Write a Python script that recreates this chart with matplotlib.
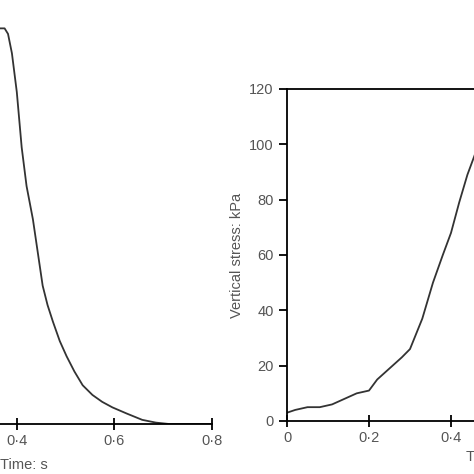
import matplotlib.pyplot as plt

plt.rcParams["font.family"] = ["Liberation Sans", "DejaVu Sans"]

# left panel: decaying stress pulse (only partly visible)
t_left = [0.30, 0.34, 0.365, 0.375, 0.382, 0.39, 0.40, 0.41, 0.42, 0.433, 0.443,
          0.453, 0.463, 0.474, 0.488, 0.502, 0.518, 0.535, 0.555, 0.575, 0.596,
          0.625, 0.657, 0.685, 0.712, 0.80]
s_left = [110, 138, 143, 143, 141, 134, 120, 100, 86, 74, 62, 50, 43, 37, 30,
          24.5, 19, 14, 10.5, 8, 6, 3.8, 1.5, 0.5, 0, 0]

# right panel: rising stress
t_right = [0, 0.02, 0.05, 0.08, 0.11, 0.14, 0.17, 0.2, 0.22, 0.25, 0.28, 0.3,
           0.33, 0.356, 0.38, 0.4, 0.42, 0.44, 0.46, 0.5]
s_right = [3, 4, 5, 5, 6, 8, 10, 11, 15, 19, 23, 26, 37, 50, 60, 68, 79, 89, 97, 104]

left_ticks = [0.4, 0.6, 0.8]
right_ticks = [0, 0.2, 0.4]
y_ticks = [0, 20, 40, 60, 80, 100, 120]

W = H = 474
fig = plt.figure(figsize=(4.74, 4.74), dpi=100)

def fmt(v):
    return ("%g" % v).replace(".", "·")

axl = fig.add_axes([-32 / W, (H - 424) / H, 244 / W, 415 / H])
axl.plot(t_left, s_left, color="#333", lw=1.3)
axl.set_xlim(0.3, 0.8)
axl.set_ylim(0, 150)
axl.set_xticks(left_ticks, [fmt(v) for v in left_ticks])
axl.set_yticks([])
for s in ("top", "right", "left"):
    axl.spines[s].set_visible(False)
axl.spines["bottom"].set_linewidth(1.3)
axl.tick_params(axis="x", direction="inout", length=8, width=1.3, labelsize=10.5, labelcolor="#555")
fig.text(0, 1 - 465 / H, "Time: s", fontsize=10.5, color="#555", va="center")

axr = fig.add_axes([287 / W, (H - 421) / H, 246 / W, 332 / H])
axr.plot(t_right, s_right, color="#333", lw=1.3)
axr.set_xlim(0, 0.6)
axr.set_ylim(0, 120)
axr.set_xticks(right_ticks, [fmt(v) for v in right_ticks])
axr.set_yticks(y_ticks)
axr.spines["right"].set_visible(False)
for s in ("top", "bottom", "left"):
    axr.spines[s].set_linewidth(1.3)
axr.tick_params(axis="x", direction="inout", length=8, width=1.3, labelsize=10.5, labelcolor="#555")
axr.tick_params(axis="y", direction="out", length=6, width=1.3, labelsize=10.5, labelcolor="#555")
axr.set_ylabel("Vertical stress: kPa", fontsize=10.5, color="#555")
fig.text(466 / W, 1 - 457 / H, "T", fontsize=10.5, color="#555", va="center")

fig.savefig("out.png", dpi=100)
